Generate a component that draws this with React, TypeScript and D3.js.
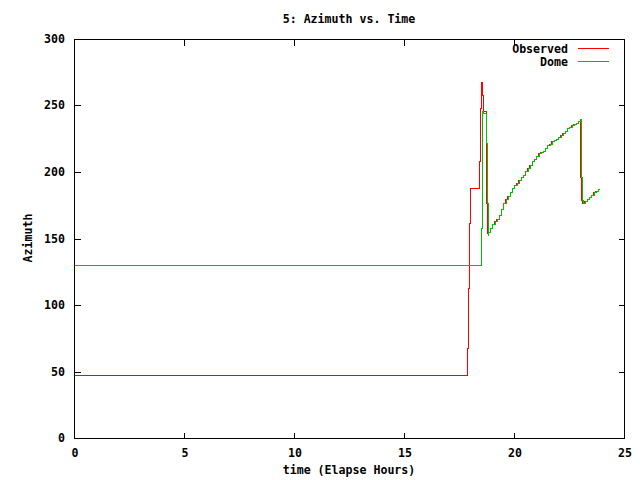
import { useEffect, useRef } from "react";
import * as d3 from "d3";

// observed azimuth (red), time in elapsed hours
const obsTime = [0, 17.86, 17.91, 17.95, 18.0, 18.41, 18.45, 18.5, 18.54, 18.59, 18.71, 18.74, 18.78,
  18.82, 18.9, 19.0, 19.1, 19.2, 19.3, 19.4, 19.5, 19.6, 19.7, 19.8, 19.9, 20.0, 20.1, 20.2, 20.3,
  20.4, 20.5, 20.6, 20.7, 20.8, 20.9, 21.0, 21.1, 21.2, 21.3, 21.4, 21.5, 21.6, 21.7, 21.8, 21.9,
  22.0, 22.1, 22.2, 22.3, 22.4, 22.5, 22.6, 22.7, 22.8, 22.9, 23.0, 23.02, 23.06, 23.1, 23.2, 23.3,
  23.4, 23.5, 23.6, 23.7, 23.8, 23.86];
const obsAz = [47, 68, 113, 162, 188, 208, 248, 268, 258, 246, 222, 177, 154,
  155, 158, 161, 163, 165, 168, 172, 177, 180, 182, 185, 188, 190, 192, 194, 196,
  198, 201, 203, 205, 208, 210, 212, 214, 215, 216, 218, 220, 221, 223, 224, 225,
  226, 228, 229, 231, 233, 234, 235, 236, 237, 238, 240, 196, 179, 177, 178, 180,
  181, 183, 185, 186, 187, 188];

// dome azimuth (green)
const domeTime = [0, 18.51, 18.56, 18.61, 18.73, 18.76, 18.8,
  18.84, 18.92, 19.02, 19.12, 19.22, 19.32, 19.42, 19.52, 19.62, 19.72, 19.82, 19.92, 20.02, 20.12,
  20.22, 20.32, 20.42, 20.52, 20.62, 20.72, 20.82, 20.92, 21.02, 21.12, 21.22, 21.32, 21.42, 21.52,
  21.62, 21.72, 21.82, 21.92, 22.02, 22.12, 22.22, 22.32, 22.42, 22.52, 22.62, 22.72, 22.82, 22.92,
  23.02, 23.04, 23.08, 23.12, 23.22, 23.32, 23.42, 23.52, 23.62, 23.72, 23.82, 23.86];
const domeAz = [130, 158, 246, 244, 222, 177, 153,
  155, 158, 161, 163, 165, 168, 172, 177, 180, 182, 185, 188, 190, 192,
  194, 196, 198, 201, 203, 205, 208, 210, 212, 214, 215, 216, 218, 220,
  221, 223, 224, 225, 226, 228, 229, 231, 233, 234, 235, 236, 237, 238,
  240, 196, 179, 177, 178, 180, 181, 183, 185, 186, 187, 188];

const xTicks = [0, 5, 10, 15, 20, 25];
const yTicks = [0, 50, 100, 150, 200, 250, 300];

const FONT = "'DejaVu Sans Mono', monospace";

export default function App() {
  const ref = useRef<SVGSVGElement>(null);

  useEffect(() => {
    const W = 640, H = 480;
    const L = 74, R = 624, T = 39, B = 438;
    const svg = d3.select(ref.current);
    svg.selectAll("*").remove();

    svg.append("rect").attr("width", W).attr("height", H).attr("fill", "#fff");

    const x = d3.scaleLinear().domain([0, 25]).range([L, R]);
    const y = d3.scaleLinear().domain([0, 300]).range([B, T]);

    const label = (px: number, py: number, anchor: string, txt: string | number) =>
      svg.append("text").attr("x", px).attr("y", py).attr("text-anchor", anchor)
        .attr("font-family", FONT).attr("font-weight", "bold").attr("font-size", 11.6).text(txt);

    const g = svg.append("g").attr("transform", "translate(0.5,0.5)").attr("shape-rendering", "crispEdges");

    // ticks, mirrored on all four sides
    const tl = 6;
    xTicks.forEach((t) => {
      const px = Math.round(x(t));
      if (t > 0 && t < 25) {
        g.append("line").attr("x1", px).attr("x2", px).attr("y1", B).attr("y2", B - tl).attr("stroke", "#000");
        g.append("line").attr("x1", px).attr("x2", px).attr("y1", T).attr("y2", T + tl).attr("stroke", "#000");
      }
      label(px + 1, 457, "middle", t);
    });
    yTicks.forEach((t) => {
      const py = Math.round(y(t));
      if (t > 0 && t < 300) {
        g.append("line").attr("x1", L).attr("x2", L + tl).attr("y1", py).attr("y2", py).attr("stroke", "#000");
        g.append("line").attr("x1", R).attr("x2", R - tl).attr("y1", py).attr("y2", py).attr("stroke", "#000");
      }
      label(65, py + 4, "end", t);
    });

    const lineGen = d3.line<[number, number]>()
      .x((d) => Math.round(x(d[0])))
      .y((d) => Math.round(y(d[1])))
      .curve(d3.curveStepAfter);

    const obs = obsTime.map((t, i) => [t, obsAz[i]] as [number, number]);
    const dome = domeTime.map((t, i) => [t, domeAz[i]] as [number, number]);

    g.append("path").attr("d", lineGen(obs)).attr("fill", "none").attr("stroke", "#ff0000");
    g.append("path").attr("d", lineGen(dome)).attr("fill", "none").attr("stroke", "#00c000");

    // frame
    g.append("rect").attr("x", L).attr("y", T).attr("width", R - L).attr("height", B - T)
      .attr("fill", "none").attr("stroke", "#000");

    // legend
    const legend = [["Observed", "#ff0000"], ["Dome", "#00c000"]];
    legend.forEach(([name, col], i) => {
      const ly = 48 + i * 13;
      label(568, ly + 5, "end", name);
      g.append("line").attr("x1", 577).attr("x2", 608).attr("y1", ly).attr("y2", ly).attr("stroke", col);
    });

    label(349, 23, "middle", "5: Azimuth vs. Time");
    label(349, 474, "middle", "time (Elapse Hours)");
    svg.append("text").attr("transform", "translate(32,238) rotate(-90)").attr("text-anchor", "middle")
      .attr("font-family", FONT).attr("font-weight", "bold").attr("font-size", 11.6).text("Azimuth");
  }, []);

  return (
    <svg ref={ref} width={640} height={480} style={{ position: "absolute", left: 0, top: 0, display: "block" }} />
  );
}
